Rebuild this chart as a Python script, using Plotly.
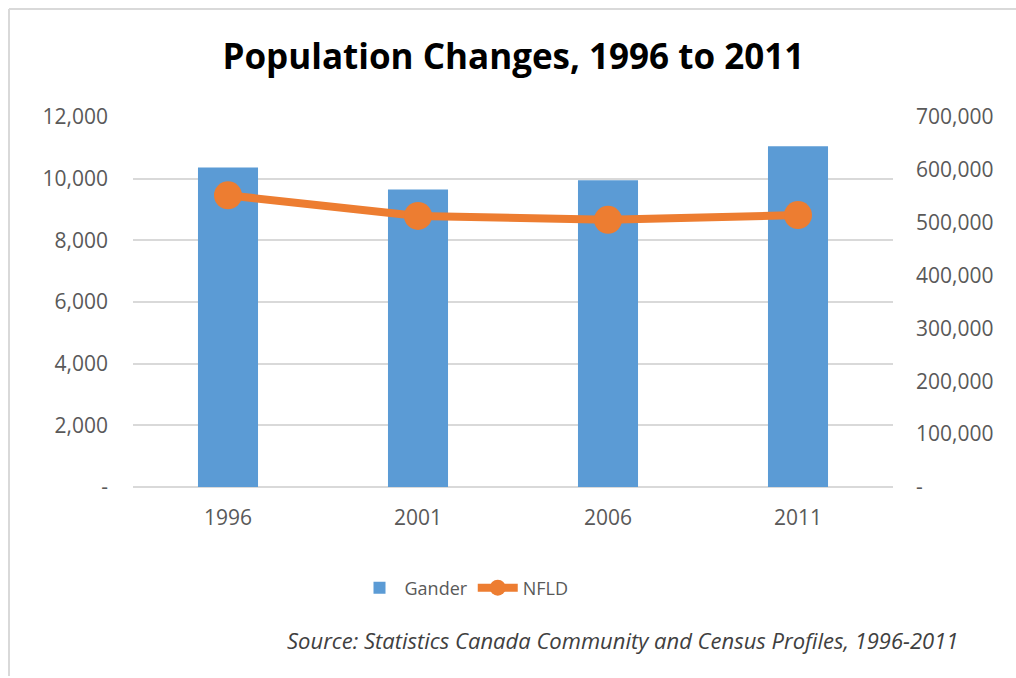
import plotly.graph_objects as go

# Census years and populations
years = ["1996", "2001", "2006", "2011"]
gander = [10364, 9651, 9951, 11054]
nfld = [551792, 512930, 505469, 514536]

left_ticks = [0, 2000, 4000, 6000, 8000, 10000, 12000]
left_labels = ["-", "2,000", "4,000", "6,000", "8,000", "10,000", "12,000"]
right_ticks = [0, 100000, 200000, 300000, 400000, 500000, 600000, 700000]
right_labels = ["-", "100,000", "200,000", "300,000", "400,000", "500,000", "600,000", "700,000"]

W, H = 1016, 678
ML, MR, MT, MB = 133, 123, 117, 191
PW, PH = W - ML - MR, H - MT - MB

FONT = "Open Sans"
TICK_COLOR = "#595959"
GRID = "#d9d9d9"

fig = go.Figure()
fig.add_trace(go.Bar(
    x=years, y=gander, name="Gander",
    marker=dict(color="#5b9bd5", line=dict(width=0)),
    width=0.316, yaxis="y",
))
fig.add_trace(go.Scatter(
    x=years, y=nfld, name="NFLD", mode="lines+markers",
    line=dict(color="#ed7d31", width=8),
    marker=dict(color="#ed7d31", size=28),
    yaxis="y2",
))


def px_x(v):
    return (v - ML) / PW


def px_y(v):
    return (H - MB - v) / PH


# light frame around the chart area
frame = dict(type="line", xref="paper", yref="paper", line=dict(color=GRID, width=2))
shapes = [
    dict(frame, x0=px_x(9), x1=px_x(W + 5), y0=px_y(9), y1=px_y(9)),
    dict(frame, x0=px_x(9), x1=px_x(9), y0=px_y(9), y1=px_y(676)),
]

fig.update_layout(
    width=W, height=H,
    margin=dict(l=ML, r=MR, t=MT, b=MB),
    paper_bgcolor="white", plot_bgcolor="white",
    font=dict(family=FONT, color=TICK_COLOR, size=21),
    title=dict(
        text="<b>Population Changes, 1996 to 2011</b>",
        x=px_x(517), xanchor="center", y=1 - 57 / H, yanchor="middle",
        font=dict(family=FONT, size=35, color="#000000"),
    ),
    xaxis=dict(
        type="category", showgrid=False, zeroline=False, showline=False,
        ticks="", tickfont=dict(size=21, color=TICK_COLOR),
        ticklabelstandoff=16,
    ),
    yaxis=dict(
        range=[0, 12000], tickvals=left_ticks, ticktext=left_labels,
        showgrid=True, gridcolor=GRID, gridwidth=1.5,
        zeroline=True, zerolinecolor=GRID, zerolinewidth=1.5,
        showline=False, ticks="", ticklabelstandoff=24,
        tickfont=dict(size=21, color=TICK_COLOR),
    ),
    yaxis2=dict(
        range=[0, 700000], tickvals=right_ticks, ticktext=right_labels,
        overlaying="y", side="right", showgrid=False, zeroline=False,
        showline=False, ticks="", ticklabelstandoff=22,
        tickfont=dict(size=21, color=TICK_COLOR),
    ),
    showlegend=True,
    legend=dict(
        orientation="h", x=px_x(464), xanchor="center",
        y=px_y(588), yanchor="middle",
        font=dict(size=18, color=TICK_COLOR),
        itemwidth=40, bgcolor="rgba(0,0,0,0)",
    ),
    shapes=shapes,
    annotations=[dict(
        text="<i>Source: Statistics Canada Community and Census Profiles, 1996-2011</i>",
        xref="paper", yref="paper", x=px_x(960), xanchor="right",
        y=px_y(640), yanchor="middle", showarrow=False,
        font=dict(family=FONT, size=22, color="#404040"),
    )],
)

fig.write_html("out.html")
